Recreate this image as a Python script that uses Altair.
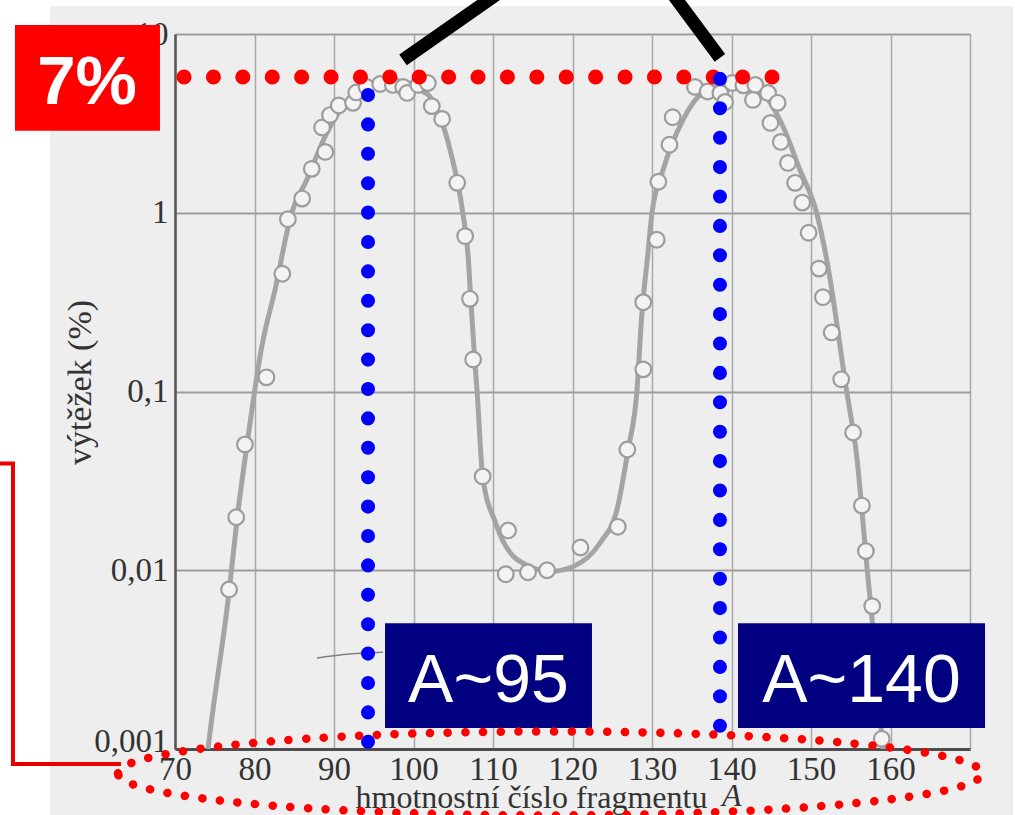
import altair as alt
import pandas as pd

# ---------------------------------------------------------------------------
# Fission fragment yield vs. mass number A (log scale, %)
# ---------------------------------------------------------------------------
curve_A = [73.9, 74.15, 76.83, 77.84, 79.02, 79.97, 80.91, 82.58, 84.68, 86.57, 89.1,
           91.1, 93.6, 95.5, 97.8, 100.0, 102.0, 103.5, 104.6, 106.2, 106.9, 107.2,
           107.7, 108.0, 108.7, 110.3, 113.0, 117.2, 120.1, 123.5, 125.6, 127.0,
           128.1, 128.7, 129.5, 130.0, 131.4, 133.9, 136.4, 139.8, 143.6, 146.5,
           148.6, 150.72, 151.98, 154.49, 155.75, 157.08, 157.64, 159.1, 159.4]
curve_Y = [0.0008, 0.001, 0.00775, 0.0199, 0.0491, 0.0977, 0.178, 0.370, 1.0, 1.525, 2.8,
           3.9, 4.74, 5.1, 5.25, 5.0, 4.5, 3.3, 2.25, 1.0, 0.55, 0.33,
           0.151, 0.1, 0.0335, 0.0185, 0.0115, 0.00986, 0.0105, 0.0143, 0.0219, 0.0474,
           0.1, 0.262, 0.6, 1.0, 1.74, 3.31, 4.68, 5.2, 4.74, 3.02,
           1.74, 0.996, 0.546, 0.1, 0.0435, 0.01, 0.00556, 0.001, 0.0008]

point_A = [76.8, 77.7, 78.8, 81.5, 83.5, 84.2, 86.0, 87.2, 88.9, 88.5, 89.5, 90.6,
           92.4, 92.8, 94.1, 95.8, 97.4, 98.7, 99.2, 100.6, 101.8, 102.3, 103.6, 105.5,
           106.5, 107.1, 107.5, 108.7, 111.9, 111.6, 114.4, 116.8, 121.0, 125.7, 126.9,
           128.9, 128.9, 130.6, 130.8, 132.2, 132.6, 135.4, 137.0, 138.6, 139.2, 140.1,
           141.5, 143.0, 142.7, 144.6, 145.8, 144.9, 146.2, 147.1, 148.0, 148.9, 149.7,
           151.0, 151.5, 152.6, 153.8, 155.3, 156.4, 156.9, 157.7, 158.9]
point_Y = [0.0078, 0.0198, 0.0506, 0.120, 0.456, 0.92, 1.20, 1.76, 2.19, 3.00, 3.52, 3.98,
           4.12, 4.71, 5.06, 5.25, 5.19, 5.06, 4.68, 5.19, 5.32, 3.95, 3.35, 1.47,
           0.74, 0.33, 0.151, 0.0335, 0.0167, 0.0095, 0.00975, 0.0100, 0.0134, 0.0175, 0.0474,
           0.133, 0.316, 0.706, 1.49, 2.40, 3.42, 5.06, 4.77, 4.68, 4.17, 5.32,
           5.16, 5.19, 4.28, 4.68, 4.12, 3.18, 2.49, 1.90, 1.47, 1.14, 0.773,
           0.487, 0.337, 0.214, 0.117, 0.059, 0.023, 0.0128, 0.0063, 0.00114]

x_ticks = [70, 80, 90, 100, 110, 120, 130, 140, 150, 160, 170]
y_ticks = [0.001, 0.01, 0.1, 1, 10]
y_tick_labels = ["0,001", "0,01", "0,1", "1", "10"]

# small pointer stroke printed in the book figure
leader_A = [87.86, 92.0, 96.16]
leader_Y = [0.00323, 0.0034, 0.00348]

# annotations (all in data units: A on x, yield % on y)
peak_A = [94.28, 138.55]
peak_top = [4.56, 5.61]
peak_bottom = [0.00109, 0.00128]
peak_labels = ["A~95", "A~140"]
peak_box_x0 = [96.42, 140.82]
peak_box_x1 = [122.45, 171.89]
peak_box_y = [0.00131, 0.00506]
peak_text_x = [109.43, 156.35]
peak_text_y = 0.00183

max_level = 5.75
max_level_span = [71.13, 145.4]
max_label = "7%"
max_box_x = [49.87, 68.11]
max_box_y = [2.872, 11.23]
max_text_pos = [58.93, 4.063]

pointer_x0 = [98.68, 132.6]
pointer_y0 = [7.16, 16.7]
pointer_x1 = [110.5, 138.55]
pointer_y1 = [16.7, 7.35]

bracket_x = [47.74, 49.62, 49.62, 63.2]
bracket_y = [0.0396, 0.0396, 0.000824, 0.000824]

ellipse_center = [117.17, 0.00073]
axis_letter_pos = [138.81, 0.00048]

# white page margins around the scanned sheet
edge_x0 = [47.0, 47.0, 175.41]
edge_x1 = [54.28, 177.0, 177.0]
edge_y0 = [0.0004, 14.33, 0.0004]
edge_y1 = [18.0, 18.0, 18.0]

SERIF = "Liberation Serif"
SANS = "Liberation Sans"
INK = "#333333"
PAPER = "#eeeeee"

# ---------------------------------------------------------------------------
XS = alt.Scale(domain=[70, 170], nice=False, zero=False)
YS = alt.Scale(type="log", domain=[0.001, 10], nice=False)

y_label_expr = "[" + ",".join("'%s'" % s for s in y_tick_labels) + "][indexof([" + \
    ",".join(str(v) for v in y_ticks) + "], datum.value)]"

x_axis = alt.Axis(
    values=x_ticks, format="d", labelExpr="datum.value >= 170 ? '' : datum.label",
    grid=True, gridColor="#a8a8a8", gridWidth=1.5,
    domainColor="#4d4d4d", domainWidth=3, ticks=False, tickSize=0,
    labelFont=SERIF, labelFontSize=33, labelColor=INK, labelPadding=4,
    labelFlush=False, labelOverlap=False,
    title="hmotnostní číslo fragmentu", titleFont=SERIF, titleFontSize=32,
    titleFontWeight="normal", titleColor=INK, titleX=180, titleY=58,
    titleAlign="left", titleAnchor="start", titleBaseline="alphabetic", zindex=0,
)
y_axis = alt.Axis(
    values=y_ticks, labelExpr=y_label_expr,
    grid=True, gridColor="#9d9d9d", gridWidth=2,
    domainColor="#555555", domainWidth=2.5, ticks=False, tickSize=0,
    labelFont=SERIF, labelFontSize=33, labelColor=INK, labelPadding=7,
    labelOverlap=False,
    labelOffset=alt.condition("datum.value < 0.002", alt.value(-8), alt.value(0)),
    title="výtěžek (%)", titleFont=SERIF, titleFontSize=34, titleFontWeight="normal",
    titleColor=INK, titleAngle=270, titleAlign="center", titleBaseline="alphabetic",
    titleX=-85, titleY=348, zindex=0,
)


def X(field):
    return alt.X(field, type="quantitative", scale=XS, axis=x_axis)


def Y(field):
    return alt.Y(field, type="quantitative", scale=YS, axis=y_axis)


curve_df = pd.DataFrame({"A": curve_A, "Y": curve_Y})
point_df = pd.DataFrame({"A": point_A, "Y": point_Y})
leader_df = pd.DataFrame({"A": leader_A, "Y": leader_Y})
edge_df = pd.DataFrame({"x0": edge_x0, "x1": edge_x1, "y0": edge_y0, "y1": edge_y1})
level_df = pd.DataFrame({"x0": [max_level_span[0]], "x1": [max_level_span[1]], "y": [max_level]})
peak_df = pd.DataFrame({"A": peak_A, "top": peak_top, "bottom": peak_bottom})
pointer_df = pd.DataFrame({"x0": pointer_x0, "y0": pointer_y0, "x1": pointer_x1, "y1": pointer_y1})
peak_box_df = pd.DataFrame({"x0": peak_box_x0, "x1": peak_box_x1,
                            "y0": [peak_box_y[0]] * 2, "y1": [peak_box_y[1]] * 2})
peak_text_df = pd.DataFrame({"x": peak_text_x, "y": [peak_text_y] * 2, "t": peak_labels})
max_box_df = pd.DataFrame({"x0": [max_box_x[0]], "x1": [max_box_x[1]],
                           "y0": [max_box_y[0]], "y1": [max_box_y[1]]})
max_text_df = pd.DataFrame({"x": [max_text_pos[0]], "y": [max_text_pos[1]], "t": [max_label]})
bracket_df = pd.DataFrame({"x": bracket_x, "y": bracket_y, "i": list(range(len(bracket_x)))})
ellipse_df = pd.DataFrame({"x": [ellipse_center[0]], "y": [ellipse_center[1]]})
letter_df = pd.DataFrame({"x": [axis_letter_pos[0]], "y": [axis_letter_pos[1]], "t": ["A"]})

# flattened ellipse outline, normalised to [-1, 1]
ELLIPSE = ("M -1 0 C -1 -0.0537 -0.5523 -0.0972 0 -0.0972 "
           "C 0.5523 -0.0972 1 -0.0537 1 0 "
           "C 1 0.0537 0.5523 0.0972 0 0.0972 "
           "C -0.5523 0.0972 -1 0.0537 -1 0 Z")

edges = alt.Chart(edge_df).mark_rect(color="white").encode(
    x=X("x0"), x2="x1", y=Y("y0"), y2="y1")

curve = alt.Chart(curve_df).mark_line(
    interpolate="monotone", color="#a4a4a4", strokeWidth=5, clip=True
).encode(x=X("A"), y=Y("Y"))

points = alt.Chart(point_df).mark_circle(
    size=245, fill="#f3f3f3", stroke="#9c9c9c", strokeWidth=2.2, opacity=1
).encode(x=X("A"), y=Y("Y"))

leader = alt.Chart(leader_df).mark_line(
    interpolate="monotone", color="#808080", strokeWidth=1.5
).encode(x=X("A"), y=Y("Y"))

level = alt.Chart(level_df).mark_rule(
    color="#ff0000", strokeWidth=15, strokeDash=[0.1, 29.3], strokeCap="round"
).encode(x=X("x0"), x2="x1", y=Y("y"))

peaks = alt.Chart(peak_df).mark_rule(
    color="#0000ff", strokeWidth=14, strokeDash=[0.1, 29.3], strokeCap="round"
).encode(x=X("A"), y=Y("top"), y2="bottom")

pointers = alt.Chart(pointer_df).mark_rule(
    color="black", strokeWidth=13, strokeCap="butt"
).encode(x=X("x0"), x2="x1", y=Y("y0"), y2="y1")

peak_boxes = alt.Chart(peak_box_df).mark_rect(color="#000080").encode(
    x=X("x0"), x2="x1", y=Y("y0"), y2="y1")

peak_texts = alt.Chart(peak_text_df).mark_text(
    font=SANS, fontSize=68, color="white", align="center", baseline="alphabetic"
).encode(x=X("x"), y=Y("y"), text="t:N")

max_box = alt.Chart(max_box_df).mark_rect(color="#ff0000").encode(
    x=X("x0"), x2="x1", y=Y("y0"), y2="y1")

max_text = alt.Chart(max_text_df).mark_text(
    font=SANS, fontSize=69, fontWeight="bold", color="white", align="center",
    baseline="alphabetic"
).encode(x=X("x"), y=Y("y"), text="t:N")

bracket = alt.Chart(bracket_df).mark_line(
    color="#e80000", strokeWidth=4, strokeJoin="miter", strokeCap="butt"
).encode(x=X("x"), y=Y("y"), order="i:Q")

ellipse = alt.Chart(ellipse_df).mark_point(
    shape=ELLIPSE, size=746496, filled=False, stroke="#ff0000", strokeWidth=8.5,
    strokeDash=[0.1, 17.6], strokeCap="round", opacity=1
).encode(x=X("x"), y=Y("y"))

letter = alt.Chart(letter_df).mark_text(
    font=SERIF, fontSize=32, fontStyle="italic", color=INK, align="left",
    baseline="alphabetic"
).encode(x=X("x"), y=Y("y"), text="t:N")

chart = alt.layer(
    edges, curve, points, leader, letter, level, peaks, pointers,
    peak_boxes, peak_texts, max_box, max_text, bracket, ellipse,
).properties(
    width=795, height=715,
    autosize=alt.AutoSizeParams(type="none"),
    padding={"left": 175, "top": 34, "right": 45, "bottom": 66},
).configure(
    background=PAPER
).configure_view(
    stroke="transparent"
)

chart.save("out.html", embed_options={"renderer": "svg", "actions": False})
